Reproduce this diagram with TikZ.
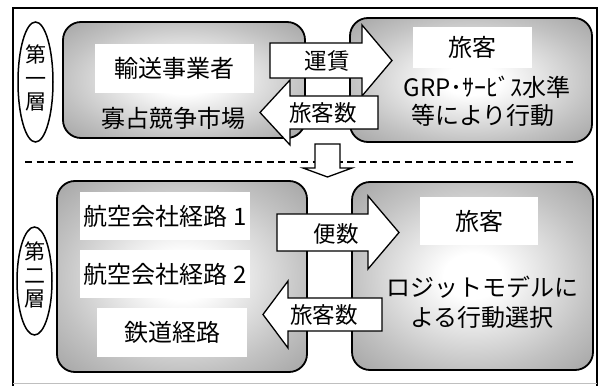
\documentclass[tikz,border=0pt]{standalone}
\usepackage{fontspec}
\setmainfont{Noto Sans CJK JP}
\usetikzlibrary{shapes.geometric}
\pgfdeclareradialshading{boxshade}{\pgfpoint{0bp}{0bp}}{color(0bp)=(white); color(6bp)=(white); color(25bp)=(black!24); color(36bp)=(black!36); color(50bp)=(black!36)}
\begin{document}
\begin{tikzpicture}[x=1pt,y=-1pt]
\useasboundingbox (0,0) rectangle (600,387);
\tikzset{
  panel/.style={draw=black, line width=1.8pt, rounded corners=18pt, shading=boxshade, inner sep=0pt},
  whitebox/.style={fill=white, inner sep=0pt, font=\fontsize{24}{28}\selectfont},
  boxtext/.style={inner sep=0pt, font=\fontsize{24}{28}\selectfont},
  arrowshape/.style={draw=black, fill=white, line width=1.3pt, line join=miter},
  arrowlabel/.style={inner sep=0pt, font=\fontsize{22.5}{26}\selectfont},
  layerellipse/.style={ellipse, draw=black, line width=1.5pt, inner sep=0pt},
  layertext/.style={inner sep=0pt, align=center, font=\fontsize{21}{23.5}\selectfont}
}
% frame
\coordinate (fbl) at (13,386);
\coordinate (ftl) at (13,8);
\coordinate (ftr) at (597,8);
\coordinate (fbr) at (597,386);
\draw[line width=1.8pt] (fbl) -- (ftl) -- (ftr) -- (fbr);
\coordinate (gbl) at (13,384);
\coordinate (gbr) at (597,384);
\draw[gray!50, line width=1pt] (gbl) -- (gbr);

% layer ellipses
\node[layerellipse, minimum width=35pt, minimum height=120pt] (e1) at (35.5,82) {};
\node[layertext] (t1) at (35.5,78) {第\\一\\層};
\node[layerellipse, minimum width=35pt, minimum height=108pt] (e2) at (34.5,281) {};
\node[layertext] (t2) at (34.5,275) {第\\二\\層};

% layer 1 panels
\node[panel, minimum width=242pt, minimum height=116pt] (p1l) at (184,80) {};
\node[panel, minimum width=242pt, minimum height=124pt] (p1r) at (471,80) {};
% layer 2 panels
\node[panel, minimum width=250pt, minimum height=191pt] (p2l) at (182,276.5) {};
\node[panel, minimum width=241pt, minimum height=188pt] (p2r) at (472.5,276) {};

% layer 1 texts
\node[whitebox, minimum width=159pt, minimum height=49pt] (w1) at (174.5,68.5) {輸送事業者};
\node[boxtext] (m1) at (173,118) {寡占競争市場};
\node[whitebox, minimum width=119pt, minimum height=41pt] (w2) at (472.5,47.5) {旅客};
\node[boxtext] (g1) at (487,87) {GRP･ｻｰﾋﾞｽ水準};
\node[boxtext] (g2) at (483,115) {等により行動};

% layer 2 texts
\node[whitebox, minimum width=170pt, minimum height=48pt] (a1) at (165,216) {航空会社経路 1};
\node[whitebox, minimum width=170pt, minimum height=48pt] (a2) at (165,274) {航空会社経路 2};
\node[whitebox, minimum width=150pt, minimum height=49pt] (rw) at (172,332.5) {鉄道経路};
\node[whitebox, minimum width=118pt, minimum height=48pt] (w3) at (479,221) {旅客};
\node[boxtext] (l1) at (482,287) {ロジットモデルに};
\node[boxtext] (l2) at (482,317) {よる行動選択};

% dashed separator
\coordinate (dl) at (25,162);
\coordinate (dr) at (577,162);
\draw[line width=1.5pt, dash pattern=on 7pt off 4.5pt] (dl) -- (dr);

% down arrow
\draw[arrowshape] (315,144) -- (340,144) -- (340,168) -- (352,168) -- (327.5,177) -- (303,168) -- (315,168) -- cycle;

% layer 1 arrows
\draw[arrowshape] (270,43) -- (362,43) -- (362,25) -- (392,60.5) -- (362,96) -- (362,78) -- (270,78) -- cycle;
\node[arrowlabel] (fare) at (327,61) {運賃};
\draw[arrowshape] (378,96) -- (290,96) -- (290,80) -- (260,112.5) -- (290,145) -- (290,129) -- (378,129) -- cycle;
\node[arrowlabel] (pax1) at (323,113) {旅客数};

% layer 2 arrows
\draw[arrowshape] (277,214) -- (368,214) -- (368,196) -- (399,232.5) -- (368,269) -- (368,251) -- (277,251) -- cycle;
\node[arrowlabel] (freq) at (336,234) {便数};
\draw[arrowshape] (382,298) -- (288,298) -- (288,281) -- (263,314.5) -- (288,348) -- (288,331) -- (382,331) -- cycle;
\node[arrowlabel] (pax2) at (324,315) {旅客数};
\end{tikzpicture}
\end{document}
